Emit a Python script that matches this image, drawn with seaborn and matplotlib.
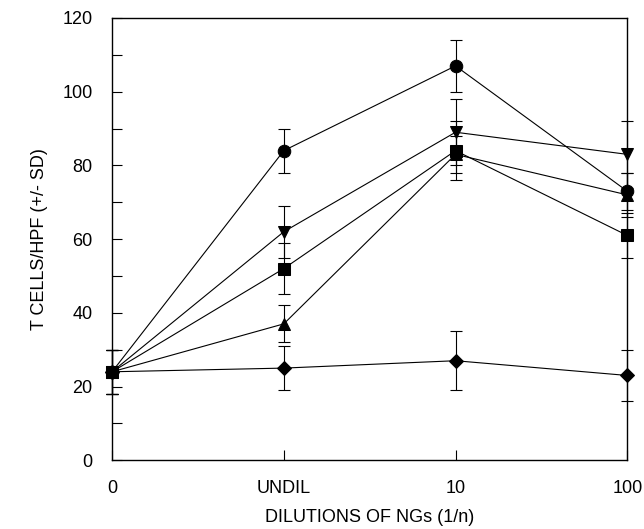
import numpy as np
import pandas as pd
import seaborn as sns
import matplotlib.pyplot as plt
from matplotlib.ticker import MultipleLocator

# data
dilutions = ["0", "UNDIL", "10", "100"]
series = ["circle", "down", "up", "diamond", "square"]

circle_mean = [24, 84, 107, 73]
circle_sd = [6, 6, 7, 5]
down_mean = [24, 62, 89, 83]
down_sd = [6, 7, 9, 9]
up_mean = [24, 37, 83, 72]
up_sd = [6, 5, 5, 6]
diamond_mean = [24, 25, 27, 23]
diamond_sd = [6, 6, 8, 7]
square_mean = [24, 52, 84, 61]
square_sd = [6, 7, 8, 6]

means = [circle_mean, down_mean, up_mean, diamond_mean, square_mean]
sds = [circle_sd, down_sd, up_sd, diamond_sd, square_sd]
marker_map = {"circle": "o", "down": "v", "up": "^", "diamond": "D", "square": "s"}
size_map = {"circle": 9, "down": 9, "up": 9, "diamond": 7, "square": 9}

rows = []
for name, m, s in zip(series, means, sds):
    for i, lab in enumerate(dilutions):
        rows.append({"series": name, "pos": i, "dilution": lab, "mean": m[i], "sd": s[i]})
df = pd.DataFrame(rows)

sns.set_style("ticks")
plt.rcParams["font.family"] = ["Liberation Sans", "DejaVu Sans"]
plt.rcParams["text.color"] = "black"
plt.rcParams["axes.labelcolor"] = "black"
plt.rcParams["xtick.color"] = "black"
plt.rcParams["ytick.color"] = "black"

fig = plt.figure(figsize=(6.44, 5.29), dpi=100)
ax = fig.add_axes([0.174, 0.130, 0.800, 0.836])

# error bars first, then lines/markers on top
for name in series:
    sub = df[df["series"] == name]
    ax.errorbar(sub["pos"], sub["mean"], yerr=sub["sd"], fmt="none",
                ecolor="black", elinewidth=0.8, capsize=4, capthick=0.8, zorder=2)

for name in series:
    sub = df[df["series"] == name]
    sns.lineplot(data=sub, x="pos", y="mean", ax=ax, color="black",
                 marker=marker_map[name], markersize=size_map[name],
                 markeredgecolor="black", linewidth=0.8, zorder=3)

ax.set_xlim(0, 3)
ax.set_ylim(0, 120)
ax.set_xticks(range(len(dilutions)))
ax.set_xticklabels(dilutions)
ax.yaxis.set_major_locator(MultipleLocator(20))
ax.yaxis.set_minor_locator(MultipleLocator(10))
ax.tick_params(axis="both", which="both", direction="in", labelsize=13, width=0.8)
ax.tick_params(axis="both", which="major", length=7, pad=14)
ax.tick_params(axis="y", which="minor", length=7)
for sp in ax.spines.values():
    sp.set_linewidth(1.0)
    sp.set_color("black")
    sp.set_visible(True)

ax.set_xlabel("DILUTIONS OF NGs (1/n)", fontsize=13, labelpad=9)
ax.set_ylabel("T CELLS/HPF (+/- SD)", fontsize=13, labelpad=10)

for art in ax.lines:
    art.set_clip_on(False)
for coll in ax.collections:
    coll.set_clip_on(False)

fig.savefig("out.png", dpi=100)
